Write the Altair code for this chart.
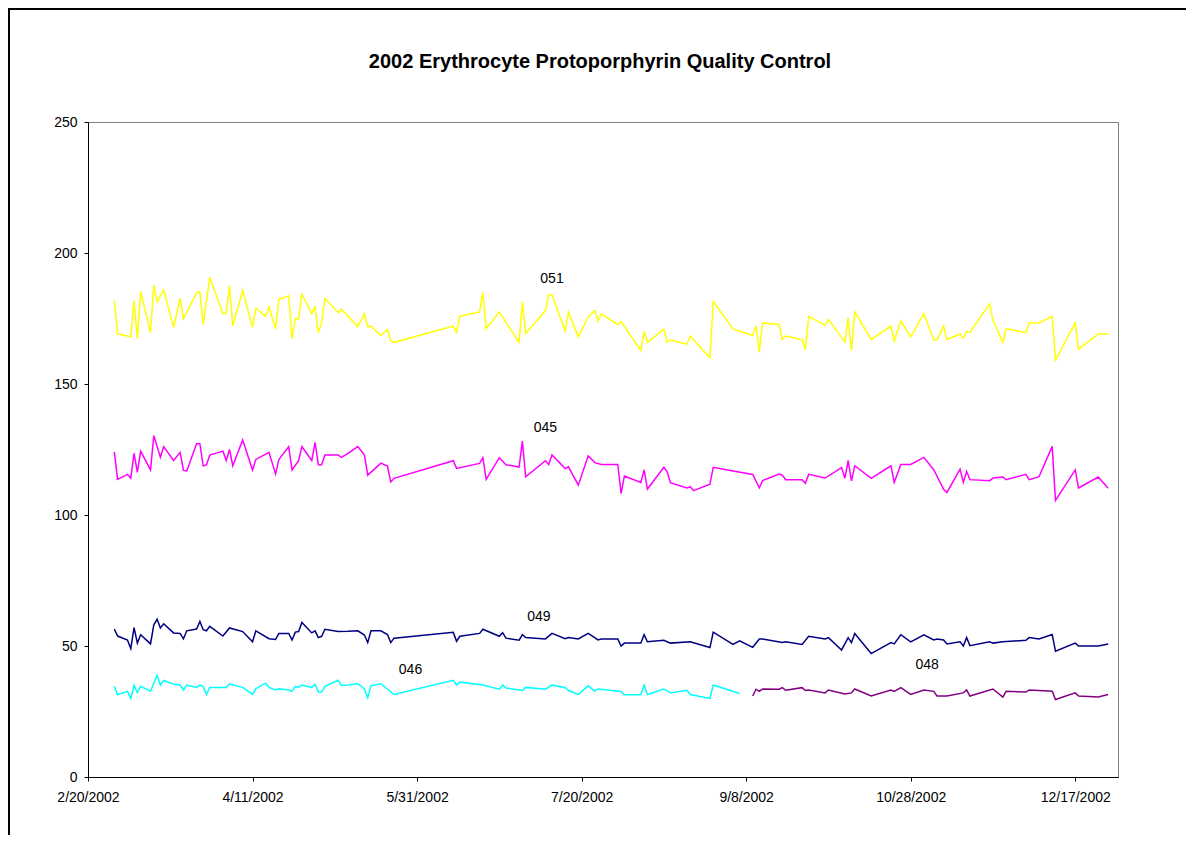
import altair as alt
import pandas as pd

BASE = pd.Timestamp("2002-02-20")

# ---- data (day offset from 2/20/2002, value) ----
days_051 = [8,9,13,14,15,16,19,20,21,23,26,28,29,33,34,35,37,41,42,43,
            44,47,50,51,54,55,57,58,61,62,63,64,65,68,69,70,71,72,76,77,
            79,82,84,85,86,89,91,92,93,111,112,113,119,120,121,125,131,132,133,139,
            140,141,145,146,149,152,154,155,156,161,162,168,169,170,175,176,177,182,183,189,
            190,196,202,203,204,205,210,211,212,217,218,219,224,225,230,231,232,233,238,244,
            245,247,250,254,257,258,260,261,265,266,267,268,274,275,278,279,285,286,289,293,
            294,300,301,307,310]
vals_051 = [181.8,169.1,168.0,181.8,167.3,185.3,169.6,187.6,181.3,186.0,
            171.6,182.7,174.9,184.8,185.2,172.7,190.7,176.9,176.9,187.6,
            172.2,185.7,171.6,178.9,175.9,179.5,171.1,182.3,183.7,167.3,
            175.0,174.9,184.3,176.9,179.5,169.6,173.4,182.7,177.2,178.5,
            175.9,171.9,176.8,171.9,172.1,168.5,170.8,166.4,165.9,172.1,
            169.7,175.9,177.5,185.0,171.1,177.5,165.9,181.3,169.3,178.0,
            184.1,184.1,170.2,177.5,168.0,175.6,178.0,174.0,176.8,172.7,
            173.8,162.8,170.1,165.9,171.0,166.0,166.8,165.2,168.3,160.0,
            181.5,171.0,168.5,172.1,162.1,173.3,172.7,167.0,168.3,166.9,
            163.2,175.8,172.4,174.7,166.0,175.3,162.8,177.5,167.0,172.1,
            166.4,174.1,168.0,176.9,166.8,167.0,172.1,167.0,169.1,167.4,
            170.0,169.8,180.6,174.4,165.9,171.1,169.6,173.3,173.3,175.8,
            159.1,173.3,163.3,169.1,169.1]

days_045 = [8,9,12,13,14,15,16,19,20,22,23,26,28,29,30,33,34,35,36,37,
            41,42,43,44,47,50,51,55,57,58,61,62,64,65,68,69,70,71,72,76,
            77,79,82,84,85,89,91,92,93,111,112,119,120,121,125,127,131,132,133,139,
            140,141,145,146,149,152,154,156,161,162,163,168,169,170,175,176,177,182,183,184,
            189,190,196,202,204,205,210,211,212,217,218,219,224,229,230,231,232,233,238,244,
            245,247,250,254,257,260,261,265,266,267,268,274,275,278,279,285,286,289,293,294,
            300,301,307,310]
vals_045 = [124.1,113.6,115.5,114.0,123.5,116.3,124.4,117.2,130.3,122.1,
            126.1,120.8,123.9,117.0,116.8,127.2,127.2,118.8,119.1,122.9,
            124.4,120.8,125.0,118.8,128.6,117.2,121.2,123.9,115.6,121.2,
            126.1,117.2,120.7,126.1,120.8,127.7,119.2,119.2,122.9,122.9,
            122.0,123.5,126.1,122.9,115.2,119.8,118.7,112.6,114.0,120.7,
            117.8,119.7,121.9,113.6,121.9,119.2,118.3,128.2,114.6,120.7,
            119.3,122.9,117.7,118.4,111.4,122.6,120.0,119.3,119.3,108.2,
            114.9,112.4,117.2,109.9,118.2,116.5,112.3,110.3,110.8,109.3,
            111.8,118.2,116.8,115.5,110.4,113.1,115.6,115.2,113.5,113.5,
            112.1,115.5,114.1,118.1,114.0,120.8,113.0,118.8,114.0,118.8,
            112.4,119.3,119.3,122.0,117.3,109.8,108.6,117.5,112.4,116.6,
            113.5,113.1,114.1,114.5,113.5,115.5,113.5,114.6,126.2,105.6,
            117.2,110.3,114.5,110.2]

days_049 = [8,9,12,13,14,15,16,19,20,21,22,23,26,28,29,30,33,34,35,36,
            37,41,43,47,50,51,55,57,58,61,62,63,64,65,68,69,70,71,72,76,
            79,82,84,85,86,89,91,92,93,111,112,113,119,120,125,126,127,131,132,133,
            139,141,145,146,149,152,155,156,161,162,163,168,169,170,175,177,183,189,190,196,
            198,202,204,205,211,212,217,219,224,225,229,231,232,233,238,244,245,247,250,254,
            257,258,260,261,265,266,267,268,274,275,278,285,286,289,293,294,300,301,307,310]
vals_049 = [56.5,53.8,52.3,49.0,57.0,51.1,54.3,50.8,58.1,60.2,
            56.9,58.5,55.0,54.8,52.7,55.8,56.5,59.4,56.2,55.8,
            57.5,53.8,56.9,55.5,51.6,55.8,52.8,52.5,54.8,54.8,
            52.3,55.3,55.5,59.0,55.0,55.8,53.2,53.7,56.4,55.5,
            55.6,55.8,54.2,51.3,55.8,55.8,54.4,51.3,53.0,55.2,
            51.8,53.7,54.8,56.4,53.7,55.1,53.0,52.2,54.3,53.2,
            52.7,54.8,52.8,53.2,52.7,54.8,52.3,52.7,52.7,50.0,
            51.1,51.1,54.3,51.6,52.2,51.1,51.6,49.4,55.3,50.6,
            52.0,49.5,52.7,52.7,51.3,51.6,50.6,53.7,52.7,53.2,
            48.5,53.2,51.3,54.8,47.1,51.3,50.8,54.3,51.6,54.3,
            52.3,52.7,52.3,50.8,51.6,50.0,53.2,50.1,51.6,51.1,
            51.6,52.2,53.2,52.7,54.4,48.0,51.1,50.0,50.0,50.8]

days_046 = [8,9,12,13,14,15,16,19,20,21,22,23,26,28,29,30,33,34,35,36,
            37,42,43,47,50,51,54,55,57,58,61,62,63,64,65,68,69,70,71,72,
            76,77,79,82,84,85,86,89,93,111,112,113,120,125,126,127,132,133,139,141,
            145,146,149,152,154,155,162,163,168,169,170,175,177,182,183,189,190,198]
vals_046 = [34.6,31.4,32.7,30.0,35.0,32.2,34.6,32.7,35.8,38.8,
            35.1,36.9,35.4,35.1,33.2,35.1,34.2,35.1,34.6,31.5,
            34.2,34.2,35.5,34.2,31.5,33.7,35.8,34.2,33.2,33.7,
            33.2,32.7,34.6,34.2,35.1,34.2,35.4,32.4,32.4,34.6,
            36.9,34.9,35.1,35.6,33.6,30.2,34.9,35.6,31.5,36.9,
            35.1,36.2,35.1,33.5,35.1,34.0,33.0,34.2,33.5,35.1,
            34.2,33.0,31.5,34.8,32.8,33.6,32.6,31.4,31.4,35.1,
            31.5,33.6,32.1,33.1,31.5,30.0,35.1,31.9]

days_048 = [202,203,204,205,210,211,212,217,218,219,224,225,230,232,233,238,244,245,247,250,
            254,257,258,261,266,267,268,275,278,279,285,286,293,294,300,301,307,310]
vals_048 = [30.9,33.5,32.7,33.6,33.5,34.1,33.1,34.1,33.0,33.2,
            32.1,33.2,31.7,32.1,33.6,30.9,33.2,32.7,34.1,31.5,
            33.2,32.7,30.9,30.9,32.1,33.2,30.9,33.6,30.5,32.7,
            32.4,33.2,32.7,29.6,32.1,30.9,30.5,31.5]

series_codes = ["051", "045", "049", "046", "048"]
series_colors = ["#FFFF00", "#FF00FF", "#000080", "#00FFFF", "#800080"]

label_text = ["051", "045", "049", "046", "048"]
label_days = [141, 139, 137, 98, 255]
label_vals = [190.1, 133.2, 61.1, 41.0, 42.6]

y_ticks = [0, 50, 100, 150, 200, 250]
x_tick_days = [0, 50, 100, 150, 200, 250, 300]
x_end_day = 313

# ---- build tables ----
def table(code, days, vals):
    return pd.DataFrame({
        "date": BASE + pd.to_timedelta(days, unit="D"),
        "value": vals,
        "series": code,
    })

lines_df = pd.concat([
    table("051", days_051, vals_051),
    table("045", days_045, vals_045),
    table("049", days_049, vals_049),
    table("046", days_046, vals_046),
    table("048", days_048, vals_048),
], ignore_index=True)

labels_df = pd.DataFrame({
    "date": BASE + pd.to_timedelta(label_days, unit="D"),
    "value": label_vals,
    "text": label_text,
})

def dt(ts):
    return alt.DateTime(year=ts.year, month=ts.month, date=ts.day)

x_values = [dt(BASE + pd.Timedelta(days=d)) for d in x_tick_days]
x_domain = [dt(BASE), dt(BASE + pd.Timedelta(days=x_end_day))]

FONT = "Liberation Sans"

x_enc = alt.X(
    "date:T",
    scale=alt.Scale(domain=x_domain, nice=False),
    axis=alt.Axis(values=x_values, format="%-m/%-d/%Y", title=None, grid=False,
                  labelPadding=9, labelFlush=False, labelOverlap=False),
)
y_enc = alt.Y(
    "value:Q",
    scale=alt.Scale(domain=[0, 250], nice=False),
    axis=alt.Axis(values=y_ticks, title=None, grid=False, labelPadding=7),
)

lines = alt.Chart(lines_df).mark_line(strokeWidth=1.5).encode(
    x=x_enc,
    y=y_enc,
    color=alt.Color("series:N",
                    scale=alt.Scale(domain=series_codes, range=series_colors),
                    legend=None),
    detail="series:N",
)

labels = alt.Chart(labels_df).mark_text(
    font=FONT, fontSize=14, color="black", align="center", baseline="middle"
).encode(
    x="date:T",
    y="value:Q",
    text="text:N",
)

frame = alt.Chart(pd.DataFrame({"k": [0]})).mark_rect(
    fillOpacity=0, stroke="black", strokeWidth=2
).encode(
    x=alt.value(-79), x2=alt.value(1300),
    y=alt.value(-113), y2=alt.value(900),
)

chart = alt.layer(frame, lines, labels).properties(
    width=1030,
    height=655,
    padding={"left": 80, "top": 114, "right": 68, "bottom": 58},
    autosize=alt.AutoSizeParams(type="none"),
    background="white",
    title=alt.Title(
        "2002 Erythrocyte Protoporphyrin Quality Control",
        font=FONT, fontSize=20, fontWeight="bold", color="black",
        anchor="middle", offset=-64, dx=-3,
    ),
).configure_view(
    stroke="#808080", strokeWidth=1
).configure_axis(
    grid=False,
    domainColor="black",
    tickColor="black",
    labelColor="black",
    labelFont=FONT,
    labelFontSize=14,
    tickSize=4,
    domainWidth=1,
    tickWidth=1,
)

chart.save("out.html", embed_options={"renderer": "svg", "actions": False})
